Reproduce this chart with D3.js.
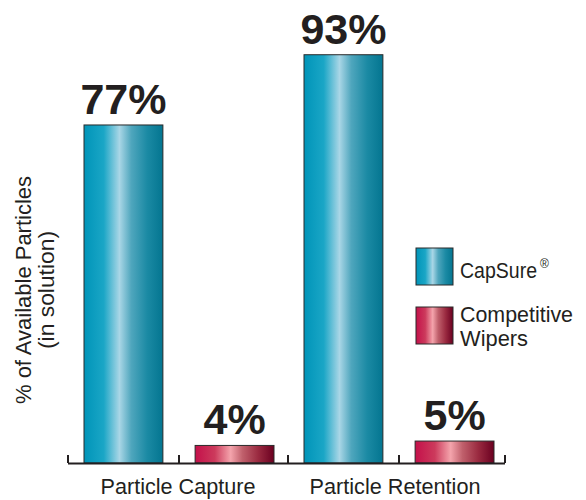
<!DOCTYPE html>
<html><head><meta charset="utf-8">
<script src="https://cdn.jsdelivr.net/npm/d3@7"></script>
<style>body{margin:0;background:#fff}svg{display:block}text{font-family:"Liberation Sans",Arial,sans-serif}</style>
</head><body>
<script>
const categories = ["Particle Capture", "Particle Retention"];
const seriesNames = ["CapSure®", "Competitive Wipers"];
const capsure = [77, 93];
const competitive = [4, 5];
const valueLabels = [["77%", "4%"], ["93%", "5%"]];

const W = 586, H = 500;
const ink = "#231f20";
const svg = d3.select("body").append("svg").attr("width", W).attr("height", H);
const defs = svg.append("defs");
function grad(id, stops) {
  const g = defs.append("linearGradient").attr("id", id).attr("x1", "0%").attr("x2", "100%").attr("y1", "0%").attr("y2", "0%");
  stops.forEach(s => g.append("stop").attr("offset", s[0]).attr("stop-color", s[1]));
}
grad("gBlue", [["0%", "#0094b8"], ["25%", "#1aa6c6"], ["45%", "#a9d6e6"], ["60%", "#4fa6bd"], ["80%", "#1b8aa4"], ["100%", "#037590"]]);
grad("gRed", [["0%", "#c4104a"], ["25%", "#cc3a5c"], ["45%", "#f4a4ac"], ["60%", "#c0606c"], ["80%", "#9a2a40"], ["100%", "#6a0020"]]);

const x0 = 68, x1 = 508, baseY = 463;
const y = d3.scaleLinear().domain([0, 100]).range([baseY, baseY - 439]);
const xCat = d3.scaleBand().domain(categories).range([x0, x1]).paddingInner(0).paddingOuter(0);
const xSub = d3.scaleBand().domain(seriesNames).range([16, 206]).paddingInner(0.29).paddingOuter(0);

const data = [];
categories.forEach((c, i) => {
  data.push({cat: c, s: seriesNames[0], v: capsure[i], lab: valueLabels[i][0], fill: "url(#gBlue)"});
  data.push({cat: c, s: seriesNames[1], v: competitive[i], lab: valueLabels[i][1], fill: "url(#gRed)"});
});

svg.selectAll("rect.bar").data(data).enter().append("rect").attr("class", "bar")
  .attr("x", d => xCat(d.cat) + xSub(d.s))
  .attr("y", d => y(d.v))
  .attr("width", xSub.bandwidth())
  .attr("height", d => baseY - y(d.v))
  .attr("fill", d => d.fill)
  .attr("stroke", "#2a2a2a").attr("stroke-width", 1);

svg.selectAll("text.val").data(data).enter().append("text").attr("class", "val")
  .attr("x", d => xCat(d.cat) + xSub(d.s) + xSub.bandwidth() / 2)
  .attr("y", d => y(d.v) - 11)
  .attr("text-anchor", "middle")
  .attr("font-weight", "bold").attr("font-size", 43).attr("fill", ink)
  .text(d => d.lab);

// axis
const ax = svg.append("g");
ax.append("line").attr("x1", x0).attr("x2", x1 - 3).attr("y1", baseY + 0.5).attr("y2", baseY + 0.5).attr("stroke", ink).attr("stroke-width", 2);
const ticks = [];
categories.forEach(c => {
  ticks.push(xCat(c));
  ticks.push(xCat(c) + (xSub(seriesNames[0]) + xSub.bandwidth() + xSub(seriesNames[1])) / 2);
});
ticks.push(x1 - 3);
ax.selectAll("line.t").data(ticks).enter().append("line").attr("class", "t")
  .attr("x1", d => d).attr("x2", d => d).attr("y1", baseY - 8).attr("y2", baseY)
  .attr("stroke", ink).attr("stroke-width", 2);

svg.selectAll("text.cat").data(categories).enter().append("text").attr("class", "cat")
  .attr("x", (d, i) => xCat(d) + xCat.bandwidth() / 2 - (i === 0 ? 0 : 3))
  .attr("y", 494).attr("text-anchor", "middle").attr("font-size", 22).attr("fill", ink)
  .attr("textLength", (d, i) => i === 0 ? 155 : 171).attr("lengthAdjust", "spacingAndGlyphs")
  .text(d => d);

// y title
const yt = svg.append("text").attr("transform", "translate(0,290) rotate(-90)").attr("text-anchor", "middle").attr("font-size", 22).attr("fill", ink);
yt.append("tspan").attr("x", 0).attr("y", 31).attr("textLength", 228).attr("lengthAdjust", "spacingAndGlyphs").text("% of Available Particles");
yt.append("tspan").attr("x", 0).attr("y", 54).attr("textLength", 118).attr("lengthAdjust", "spacingAndGlyphs").text("(in solution)");

// legend
const leg = svg.append("g");
leg.append("rect").attr("x", 416).attr("y", 248).attr("width", 37).attr("height", 37).attr("fill", "url(#gBlue)").attr("stroke", "#2a2a2a");
const t1 = leg.append("text").attr("font-size", 22).attr("fill", ink).attr("x", 460).attr("y", 278);
t1.append("tspan").attr("textLength", 77).attr("lengthAdjust", "spacingAndGlyphs").text("CapSure");
t1.append("tspan").attr("font-size", 12).attr("dx", 3).attr("dy", -10).text("®");

leg.append("rect").attr("x", 416).attr("y", 307).attr("width", 37).attr("height", 37).attr("fill", "url(#gRed)").attr("stroke", "#2a2a2a");
const t2 = leg.append("text").attr("font-size", 22).attr("fill", ink);
t2.append("tspan").attr("x", 460).attr("y", 322).attr("textLength", 113).attr("lengthAdjust", "spacingAndGlyphs").text("Competitive");
t2.append("tspan").attr("x", 460).attr("y", 346).attr("textLength", 68).attr("lengthAdjust", "spacingAndGlyphs").text("Wipers");
</script>
</body></html>
